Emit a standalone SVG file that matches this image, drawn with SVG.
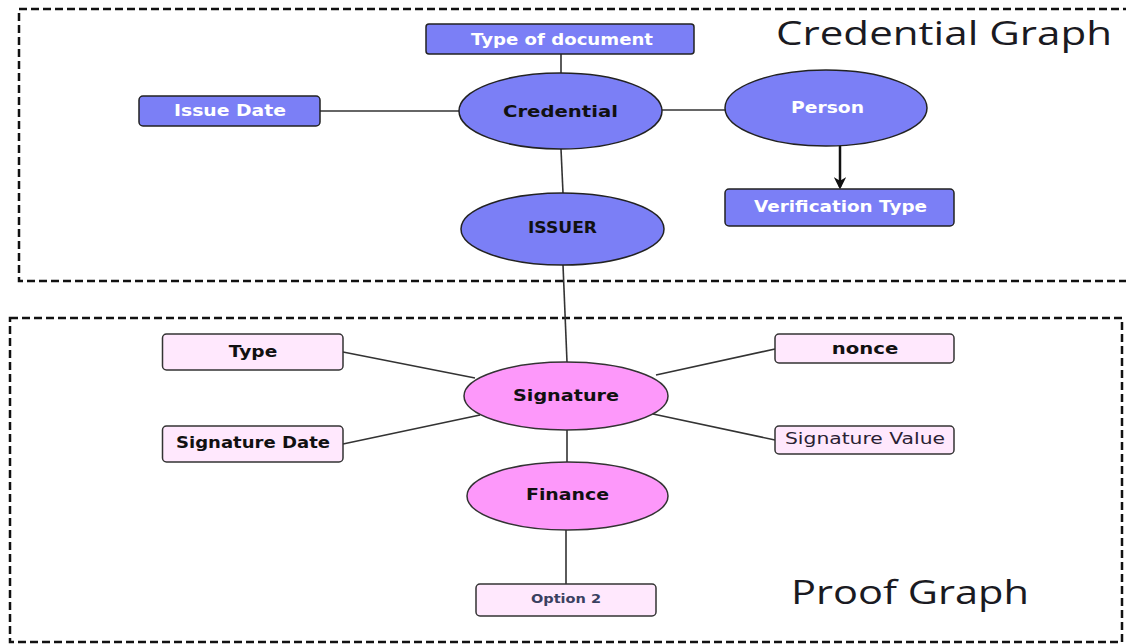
<svg xmlns="http://www.w3.org/2000/svg" width="1126" height="644" viewBox="0 0 1126 644">
<defs>
<style>
.frame{fill:none;stroke:#111;stroke-width:2.5;stroke-dasharray:8 4}
.pbox{fill:#7b7ff6;stroke:#222;stroke-width:1.5}
.pell{fill:#7b7ff6;stroke:#222;stroke-width:1.5}
.kbox{fill:#ffe8fd;stroke:#333;stroke-width:1.5}
.kell{fill:#fd98fa;stroke:#333;stroke-width:1.5}
.edge{fill:none;stroke:#333;stroke-width:1.6}
.t{font-family:"DejaVu Sans","Liberation Sans",sans-serif;font-weight:bold;font-size:15px;text-anchor:middle}
.w{fill:#fff}
.d{fill:#111}
.title{font-family:"Open Sans","Noto Sans",sans-serif;font-size:32px;fill:#1a1a22}
</style>
<marker id="arr" viewBox="0 0 10 10" refX="8" refY="5" markerWidth="5" markerHeight="5" orient="auto" markerUnits="strokeWidth">
<path d="M0,0 L10,5 L0,10 L3,5 z" fill="#111"/>
</marker>
</defs>
<rect width="1126" height="644" fill="#fff"/>
<rect class="frame" x="19" y="9" width="1120" height="272"/>
<rect class="frame" x="10" y="318" width="1112" height="324"/>
<text class="title" x="776" y="45" textLength="336" lengthAdjust="spacingAndGlyphs">Credential Graph</text>
<text class="title" x="791" y="604" textLength="238" lengthAdjust="spacingAndGlyphs">Proof Graph</text>
<g id="connectors">
<line class="edge" x1="561" y1="54" x2="561" y2="73"/>
<line class="edge" x1="320" y1="111" x2="459" y2="111"/>
<line class="edge" x1="662" y1="110" x2="725" y2="110"/>
<line class="edge" x1="561" y1="149" x2="563" y2="193"/>
<line fill="none" stroke="#111" stroke-width="2.5" x1="840" y1="146" x2="840" y2="187" marker-end="url(#arr)"/>
<line class="edge" x1="563" y1="265" x2="567" y2="362"/>
<line class="edge" x1="343" y1="352" x2="475" y2="378"/>
<line class="edge" x1="343" y1="444" x2="480" y2="415"/>
<line class="edge" x1="775" y1="349" x2="656" y2="375"/>
<line class="edge" x1="775" y1="440" x2="653" y2="414"/>
<line class="edge" x1="567" y1="430" x2="567" y2="462"/>
<line class="edge" x1="566" y1="530" x2="566" y2="584"/>
</g>
<g id="type-of-document">
<rect class="pbox" x="426" y="24" width="268" height="30" rx="3"/>
<text class="t w" x="562" y="45" textLength="182" lengthAdjust="spacingAndGlyphs" style="font-weight:600">Type of document</text>
</g>
<g id="issue-date">
<rect class="pbox" x="139" y="96" width="181" height="30" rx="4"/>
<text class="t w" x="230" y="116" textLength="112" lengthAdjust="spacingAndGlyphs">Issue Date</text>
</g>
<g id="credential">
<ellipse class="pell" cx="560.5" cy="111" rx="101.5" ry="38"/>
<text class="t d" x="560.5" y="117" textLength="115" lengthAdjust="spacingAndGlyphs">Credential</text>
</g>
<g id="person">
<ellipse class="pell" cx="826" cy="108" rx="101" ry="38"/>
<text class="t w" x="827.5" y="113" textLength="73" lengthAdjust="spacingAndGlyphs">Person</text>
</g>
<g id="verification-type">
<rect class="pbox" x="725" y="189" width="229" height="37" rx="4"/>
<text class="t w" x="840.5" y="212" textLength="173" lengthAdjust="spacingAndGlyphs">Verification Type</text>
</g>
<g id="issuer">
<ellipse class="pell" cx="562.5" cy="229" rx="101.5" ry="36"/>
<text class="t d" x="562.5" y="233" textLength="69" lengthAdjust="spacingAndGlyphs">ISSUER</text>
</g>
<g id="type">
<rect class="kbox" x="162.5" y="334" width="180.5" height="36" rx="4"/>
<text class="t d" x="253" y="357" textLength="48.5" lengthAdjust="spacingAndGlyphs">Type</text>
</g>
<g id="signature-date">
<rect class="kbox" x="162.5" y="426" width="180.5" height="36" rx="4"/>
<text class="t d" x="253" y="448" textLength="154" lengthAdjust="spacingAndGlyphs">Signature Date</text>
</g>
<g id="signature">
<ellipse class="kell" cx="566" cy="396" rx="102" ry="34"/>
<text class="t d" x="566" y="401" textLength="106" lengthAdjust="spacingAndGlyphs">Signature</text>
</g>
<g id="nonce">
<rect class="kbox" x="775" y="334" width="179" height="29" rx="4"/>
<text class="t d" x="865" y="354" textLength="66.5" lengthAdjust="spacingAndGlyphs">nonce</text>
</g>
<g id="signature-value">
<rect class="kbox" x="775" y="426" width="179" height="28" rx="4"/>
<text class="t" x="865" y="444" style="font-weight:normal;fill:#2a2233" textLength="160" lengthAdjust="spacingAndGlyphs">Signature Value</text>
</g>
<g id="finance">
<ellipse class="kell" cx="567.5" cy="496" rx="100.5" ry="34"/>
<text class="t d" x="567.5" y="500" textLength="83" lengthAdjust="spacingAndGlyphs">Finance</text>
</g>
<g id="option-2">
<rect class="kbox" x="476" y="584" width="180" height="32" rx="4"/>
<text class="t" x="566" y="603" style="font-size:12px;font-weight:600;fill:#3a4060" textLength="70" lengthAdjust="spacingAndGlyphs">Option 2</text>
</g>
</svg>
